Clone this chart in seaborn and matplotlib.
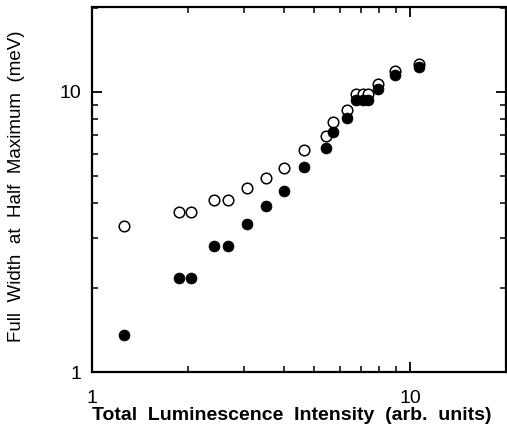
import matplotlib
matplotlib.use("Agg")
import matplotlib.pyplot as plt
import matplotlib.ticker as mticker
import seaborn as sns
import pandas as pd

# Data (log-log)
x_vals = [1.26, 1.88, 2.05, 2.41, 2.67, 3.06, 3.52, 4.02, 4.65, 5.43, 5.74, 6.31,
          6.75, 7.10, 7.36, 7.91, 8.97, 10.62]
fwhm_open = [3.31, 3.71, 3.71, 4.12, 4.12, 4.54, 4.94, 5.35, 6.20, 6.97, 7.80, 8.61,
             9.86, 9.86, 9.86, 10.65, 11.88, 12.55]
fwhm_filled = [1.35, 2.17, 2.17, 2.82, 2.82, 3.38, 3.92, 4.44, 5.38, 6.30, 7.21, 8.06,
               9.34, 9.34, 9.34, 10.22, 11.50, 12.30]

x_ticks = [1, 10]
x_ticklabels = ["1", "10"]
y_ticks = [1, 10]
y_ticklabels = ["1", "10"]

df = pd.DataFrame({"x": x_vals, "open": fwhm_open, "filled": fwhm_filled})

sns.set_style("ticks")
plt.rcParams['font.family'] = ['Liberation Sans', 'DejaVu Sans']
plt.rcParams['text.color'] = 'black'
plt.rcParams['axes.labelcolor'] = 'black'

fig = plt.figure(figsize=(5.07, 4.36), dpi=100)
ax = fig.add_axes([92/507, 64/436, (506-92)/507, (372-7.5)/436])

sns.scatterplot(data=df, x="x", y="open", ax=ax, marker="o", s=58,
                facecolor="white", edgecolor="black", linewidth=1.1, zorder=2)
sns.scatterplot(data=df, x="x", y="filled", ax=ax, marker="o", s=62,
                color="black", edgecolor="black", linewidth=0.5, zorder=3)

ax.set_xscale("log")
ax.set_yscale("log")
ax.set_xlim(1, 20)
ax.set_ylim(1, 20)

ax.xaxis.set_major_locator(mticker.FixedLocator(x_ticks))
ax.xaxis.set_major_formatter(mticker.FixedFormatter(x_ticklabels))
ax.yaxis.set_major_locator(mticker.FixedLocator(y_ticks))
ax.yaxis.set_major_formatter(mticker.FixedFormatter(y_ticklabels))
ax.xaxis.set_minor_locator(mticker.LogLocator(base=10, subs=range(2, 10)))
ax.yaxis.set_minor_locator(mticker.LogLocator(base=10, subs=range(2, 10)))
ax.xaxis.set_minor_formatter(mticker.NullFormatter())
ax.yaxis.set_minor_formatter(mticker.NullFormatter())

ax.tick_params(which="both", direction="in", top=True, right=True, colors="black",
               labelcolor="black", labelsize=14)
ax.tick_params(which="major", length=7.5, width=1.3)
ax.tick_params(which="minor", length=4, width=1.1)
ax.tick_params(axis="x", which="major", pad=13)
ax.tick_params(axis="y", which="major", pad=7.5)

for sp in ax.spines.values():
    sp.set_visible(True)
    sp.set_linewidth(1.6)
    sp.set_color("black")

ax.set_xlabel("Total  Luminescence  Intensity  (arb.  units)", fontsize=14,
              fontweight="bold", color="black")
ax.set_ylabel("Full  Width  at  Half  Maximum  (meV)", fontsize=13.5, color="black")
ax.xaxis.set_label_coords(0.482, -0.095)
ax.yaxis.set_label_coords(-0.163, 0.51)

fig.savefig("out.png", dpi=100)
